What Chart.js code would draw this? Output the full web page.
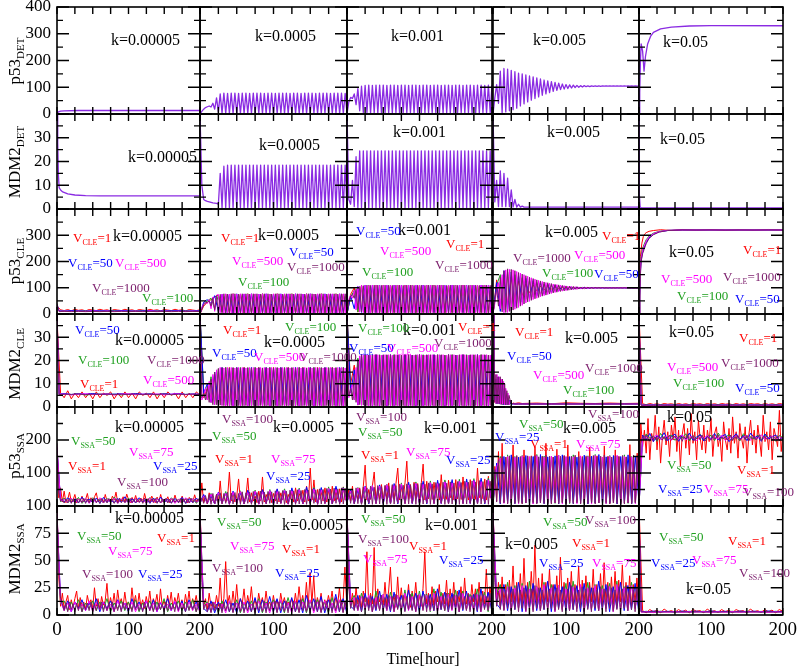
<!DOCTYPE html>
<html>
<head>
<meta charset="utf-8">
<title>p53 / MDM2 time series</title>
<script src="https://cdn.jsdelivr.net/npm/chart.js@4.4.1/dist/chart.umd.min.js"></script>
<style>
  html, body { margin: 0; padding: 0; background: #fff; }
  body { position: relative; width: 799px; height: 670px; overflow: hidden; font-family: "Liberation Serif", "Times New Roman", serif; }
  canvas { position: absolute; }
  .txt { position: absolute; white-space: nowrap; line-height: 1; transform: translateY(-50%); }
  .txt sub { position: relative; top: 3px; vertical-align: baseline; font-size: 8px; }
  .k { font-size: 16px; color: #000; }
  .v { font-size: 13px; }
  .ytitle { position: absolute; white-space: nowrap; line-height: 1; font-size: 17px; transform: translate(-50%, -50%) rotate(-90deg); }
  .ytitle sub { position: relative; top: 4px; vertical-align: baseline; font-size: 11px; }
  .xtitle { position: absolute; font-size: 16px; line-height: 1; transform: translate(-50%, -50%); white-space: nowrap; }
</style>
</head>
<body>
<script>
// time grids (hours)
const tOsc = [0,2.5,5,7.5,10,12.5,15,17.5,20,22.5,
  25,27.5,30,32.5,35,37.5,40,42.5,45,47.5,
  50,52.5,55,57.5,60,62.5,65,67.5,70,72.5,
  75,77.5,80,82.5,85,87.5,90,92.5,95,97.5,
  100,102.5,105,107.5,110,112.5,115,117.5,120,122.5,
  125,127.5,130,132.5,135,137.5,140,142.5,145,147.5,
  150,152.5,155,157.5,160,162.5,165,167.5,170,172.5,
  175,177.5,180,182.5,185,187.5,190,192.5,195,197.5,
  200];
const tNoise = [0,5,10,15,20,25,30,35,40,45,50,55,60,65,70,75,80,85,90,95,
  100,105,110,115,120,125,130,135,140,145,150,155,160,165,170,175,180,185,190,195,200];
const tSparse = [0,3,10,20,30,40,50,60,70,80,90,100,110,120,130,140,150,160,170,180,190,200];
const tDecay = [0,1,2.5,4,5.5,7,8.5,10,11.5,13,14.5,16,17.5,19,20.5,22,24,26,28,30,35,40,60,80,100,120,140,160,180,200];
const tRise = [0,1,2,3,5,7,10,14,20,28,40,60,200];
const tRiseRed = [0,1,2,4,6,8,10,14,20,30,45,60,80,100,120,140,160,180,200];

// axes and labels
const xTickLabels = [0, 100, 200];
const yMaxByRow = [400, 40, 400, 40, 300, 100];
const yMajorByRow = [100, 10, 100, 10, 100, 25];
const yMinorByRow = [50, 5, 50, 5, 50, 12.5];
const yTickLabels = [[0,100,200,300,400],[0,10,20,30],[0,100,200,300],[0,10,20,30],[100,200],[0,25,50,75,100]];
const rowTitles = [['p53','DET'],['MDM2','DET'],['p53','CLE'],['MDM2','CLE'],['p53','SSA'],['MDM2','SSA']];
const kValues = ['0.00005','0.0005','0.001','0.005','0.05'];
const vCle = [1, 50, 100, 500, 1000];
const vSsa = [1, 25, 50, 75, 100];

// ---- deterministic ----
const p53Det1T = [0,2,5,10,30,200];
const p53Det1 = [0,8,11,12,13,13];
const p53Det2 = [0,10,18,24,27,30,26,40,18,60,
  8,75,3,78,2,77,3,78,2,78, 3,77,2,78,2,78,3,77,2,78, 2,78,3,78,2,77,2,78,3,78,
  2,77,2,78,3,78,2,78,2,77, 3,78,2,78,2,77,3,78,2,78, 2,78,3,77,2,78,2,78,3,78,
  2,77,2,78,3,78,2,78,2,77, 3];
const p53Det3 = [0,45,62,58,75,35,95,12,104,6,
  107,5,108,4,107,5,108,4,108,5, 108,4,107,5,108,4,108,5,107,4, 108,5,108,4,107,5,108,4,108,5,
  107,4,108,5,108,4,107,5,108,4, 108,5,107,4,108,5,108,4,107,5, 108,4,108,5,107,4,108,5,108,4,
  107,5,108,4,108,5,107,4,108,5, 108];
const p53Det4 = [0,60,110,40,160,5,170,8,168,12,
  163,16,158,22,153,30,150,38,146,45, 142,52,139,58,135,64,131,70,127,75, 124,80,121,85,118,88,115,91,112,93,
  110,95,109,97,108,99,107,100,106,101, 106,102,105,102,105,103,105,103,105,103, 105,104,105,104,105,104,105,104,105,104,
  105,104,105,104,105,104,105,104,105,104, 105];
const p53Det5T = [0,1,2,3,5,7,9,12,16,20,30,45,70,100,200];
const p53Det5 = [0,80,200,262,235,160,215,262,290,305,318,325,329,330,330];

const mdm2Det1T = [0,1,2,3,5,8,15,25,40,60,200];
const mdm2Det1 = [40,28,14,9,8,7.2,6.4,5.9,5.6,5.5,5.5];
const mdm2Det2 = [40,10,4,3.5,3.2,3,2.8,2.6,2.5,2.4,
  2,15,0.5,18,0.5,18.5,0.4,18.5,0.5,18.5, 0.4,18.5,0.5,18.5,0.4,18.5,0.5,18.5,0.4,18.5,
  0.5,18.5,0.4,18.5,0.5,18.5,0.4,18.5,0.5,18.5, 0.4,18.5,0.5,18.5,0.4,18.5,0.5,18.5,0.4,18.5,
  0.5,18.5,0.4,18.5,0.5,18.5,0.4,18.5,0.5,18.5, 0.4,18.5,0.5,18.5,0.4,18.5,0.5,18.5,0.4,18.5,
  0.5,18.5,0.4,18.5,0.5,18.5,0.4,18.5,0.5,18.5, 0.4];
const mdm2Det3 = [40,4,2,12,1,22,0.5,24.5,0.5,24.5,
  0.5,24.5,0.4,24.5,0.5,24.5,0.4,24.5,0.5,24.5, 0.5,24.5,0.4,24.5,0.5,24.5,0.4,24.5,0.5,24.5,
  0.5,24.5,0.4,24.5,0.5,24.5,0.4,24.5,0.5,24.5, 0.5,24.5,0.4,24.5,0.5,24.5,0.4,24.5,0.5,24.5,
  0.5,24.5,0.4,24.5,0.5,24.5,0.4,24.5,0.5,24.5, 0.5,24.5,0.4,24.5,0.5,24.5,0.4,24.5,0.5,24.5,
  0.5,24.5,0.4,24.5,0.5,24.5,0.4,24.5,0.5,24.5, 0.4];
const mdm2Det4 = [40,3,12,1,16,1,15,1,13,1,
  8,0.8,4,0.8,2,0.8,1.2,0.8,0.8,0.8,
  0.8,0.8,0.8,0.8,0.8,0.8,0.8,0.8,0.8,0.8, 0.8,0.8,0.8,0.8,0.8,0.8,0.8,0.8,0.8,0.8,
  0.8,0.8,0.8,0.8,0.8,0.8,0.8,0.8,0.8,0.8, 0.8,0.8,0.8,0.8,0.8,0.8,0.8,0.8,0.8,0.8,
  0.8,0.8,0.8,0.8,0.8,0.8,0.8,0.8,0.8,0.8, 0.8,0.8,0.8,0.8,0.8,0.8,0.8,0.8,0.8,0.8, 0.8];
const mdm2Det5T = [0,0.5,1.5,3,200];
const mdm2Det5 = [40,6,1,0.5,0.5];

// ---- CLE p53 ----
const p53Cle1R = [30,16,13,17,12,18,14,16,12,17, 15,13,18,14,16,12,17,15,13,18, 14,16,12,17,15,13,18,14,16,12, 17,15,13,18,14,16,12,17,15,13, 16];
const p53Cle1B = [35,12,11,13,12,11,13,12,12,11,13,12,11,12,13,11,12,12,13,11,12,12];
const p53Cle1G = [25,11,12,11,13,12,11,12,11,13,12,11,12,13,11,12,11,12,13,12,11,12];
const p53Cle1M = [20,10,11,10,11,10,12,10,11,10,11,10,11,10,12,10,11,10,11,10,11,10];
const p53Cle1P = [40,9,10,9,10,9,10,9,10,9,10,9,10,9,10,9,10,9,10,9,10,9];

const p53Cle2P = [0,20,35,42,45,50,30,60,15,70,
  6,75,4,77,3,76,4,77,3,77, 4,76,3,77,4,77,3,76,4,77, 3,77,4,76,3,77,4,77,3,76,
  4,77,3,77,4,76,3,77,4,77, 3,76,4,77,3,77,4,76,3,77, 4,77,3,76,4,77,3,77,4,76,
  3,77,4,77,3,76,4,77,3,77, 4];
const p53Cle2M = [0,25,38,45,40,55,20,65,10,72,
  74,5,76,3,77,4,76,3,77,4, 76,3,77,4,77,3,76,4,77,3, 77,4,76,3,77,4,77,3,76,4,
  77,3,77,4,76,3,77,4,77,3, 76,4,77,3,77,4,76,3,77,4, 77,3,76,4,77,3,77,4,76,3,
  77,4,77,3,76,4,77,3,77,4, 76];
const p53Cle2B = [0,45,55,40,70,10,75,5,76,4, 77,5,76,4,77,5,76,4,77,5, 76,4,77,5,76,4,77,5,76,4, 77,5,76,4,77,5,76,4,77,5, 76];
const p53Cle2G = [0,40,50,60,20,72,8,76,5,77, 4,76,5,77,4,76,5,77,4,76, 5,77,4,76,5,77,4,76,5,77, 4,76,5,77,4,76,5,77,4,76, 5];
const p53Cle2R = [0,30,45,55,65,72,10,76,5,77, 6,76,5,77,6,76,5,77,6,76, 5,77,6,76,5,77,6,76,5,77, 6,76,5,77,6,76,5,77,6,76, 5];

const p53Cle3P = [0,50,68,75,60,95,20,105,8,108,
  5,110,4,109,5,110,4,110,5,109, 4,110,5,110,4,109,5,110,4,110, 5,109,4,110,5,110,4,109,5,110,
  4,110,5,109,4,110,5,110,4,109, 5,110,4,110,5,109,4,110,5,110, 4,109,5,110,4,110,5,109,4,110,
  5,110,4,109,5,110,4,110,5,109, 4];
const p53Cle3M = [0,55,72,60,90,15,104,7,109,5,
  110,5,109,4,110,5,110,4,109,5, 110,4,110,5,109,4,110,5,110,4, 109,5,110,4,110,5,109,4,110,5,
  110,4,109,5,110,4,110,5,109,4, 110,5,110,4,109,5,110,4,110,5, 109,4,110,5,110,4,109,5,110,4,
  110,5,109,4,110,5,110,4,109,5, 110];
const p53Cle3B = [0,70,20,105,6,110,5,109,6,110, 5,109,6,110,5,109,6,110,5,109, 6,110,5,109,6,110,5,109,6,110, 5,109,6,110,5,109,6,110,5,109, 6];
const p53Cle3G = [0,65,90,8,108,6,110,5,109,6, 110,5,109,6,110,5,109,6,110,5, 109,6,110,5,109,6,110,5,109,6, 110,5,109,6,110,5,109,6,110,5, 109];
const p53Cle3R = [0,75,100,7,110,6,109,5,110,6, 109,5,110,6,109,5,110,6,109,5, 110,6,109,5,110,6,109,5,110,6, 109,5,110,6,109,5,110,6,109,5, 110];

const p53Cle4P = [0,50,100,30,140,8,165,6,172,10,
  170,15,165,22,158,30,152,38,146,46, 140,52,135,58,130,63,126,68,122,72, 119,76,116,80,113,83,111,86,109,88,
  107,90,106,92,105,94,104,95,103,96, 102,97,102,98,101,98,101,99,101,99, 101,99,100,99,100,99,100,99,100,99,
  100,99,100,99,100,99,100,99,100,99, 100];
const p53Cle4M = [0,40,90,120,20,150,5,168,6,170,
  12,168,18,162,25,156,33,150,42,144, 48,138,55,133,60,128,66,124,70,120, 74,117,78,114,82,112,85,110,87,108,
  89,106,91,105,93,104,94,103,95,102, 96,102,97,101,98,101,98,100,99,100, 99,100,99,100,99,100,99,100,99,100,
  99,100,99,100,99,100,99,100,99,100, 99];
const p53Cle4B = [0,120,10,165,12,160,28,148,45,136, 58,127,68,120,76,114,83,110,88,106, 92,104,95,102,97,101,98,101,99,100, 99,100,99,100,99,100,99,100,99,100, 99];
const p53Cle4G = [0,110,150,15,160,25,150,40,138,55, 128,65,120,74,114,82,110,87,106,91, 103,94,102,96,101,97,100,98,100,99, 100,99,100,99,100,99,100,99,100,99, 100];
const p53Cle4R = [0,130,20,150,35,140,55,125,70,115, 80,110,88,106,92,104,95,102,97,101, 98,101,99,100,100,100,101,100,101,100, 101,100,101,100,101,100,101,100,101,100, 101];

const p53Cle5P = [0,60,150,200,230,245,268,288,302,312,318,320,320];
const p53Cle5M = [0,80,170,215,242,258,278,294,306,314,319,320,320];
const p53Cle5B = [0,70,160,205,235,252,272,290,304,313,318,320,320];
const p53Cle5G = [0,90,180,225,250,265,283,297,308,315,319,320,320];
const p53Cle5R = [0,120,220,270,295,305,310,315,318,321,318,322,319,322,318,321,319,322,320];

// ---- CLE MDM2 ----
const mdm2Cle1R = [38,6,4,7,3.5,6,4,6.5,4,6, 3.5,6.5,4,6,5,6.5,3.5,6,4,6.5, 4,6,3.5,6.5,5,6,4,6.5,3.5,6, 4,6.5,5,6,3.5,6.5,4,6,4,6.5, 5];
const mdm2Cle1B = [40,5.5,5.8,5.4,5.7,5.5,5.8,5.4,5.6,5.5,5.7,5.4,5.8,5.5,5.6,5.4,5.7,5.5,5.8,5.4,5.6,5.5];
const mdm2Cle1G = [36,5.2,5.5,5.3,5.6,5.2,5.4,5.6,5.3,5.5,5.2,5.6,5.3,5.4,5.6,5.2,5.5,5.3,5.6,5.4,5.5,5.3];
const mdm2Cle1M = [39,5.4,5.6,5.2,5.5,5.7,5.3,5.5,5.6,5.2,5.5,5.7,5.3,5.5,5.4,5.6,5.2,5.5,5.7,5.3,5.5,5.4];
const mdm2Cle1P = [40,5.3,5.5,5.4,5.6,5.3,5.5,5.4,5.6,5.3,5.5,5.4,5.6,5.3,5.5,5.4,5.6,5.3,5.5,5.4,5.5,5.4];

const mdm2Cle2P = [40,4,6,3,9,2,12,1,15,1,
  16.5,0.8,17,0.6,17,0.5,16.8,0.6,17,0.5, 17,0.6,16.8,0.5,17,0.6,17,0.5,16.8,0.6, 17,0.5,17,0.6,16.8,0.5,17,0.6,17,0.5,
  16.8,0.6,17,0.5,17,0.6,16.8,0.5,17,0.6, 17,0.5,16.8,0.6,17,0.5,17,0.6,16.8,0.5, 17,0.6,17,0.5,16.8,0.6,17,0.5,17,0.6,
  16.8,0.5,17,0.6,17,0.5,16.8,0.6,17,0.5, 17];
const mdm2Cle2M = [38,3,5,8,3,11,2,14,1,16,
  0.8,17,0.6,16.8,0.5,17,0.6,17,0.5,16.8, 0.6,17,0.5,17,0.6,16.8,0.5,17,0.6,17, 0.5,16.8,0.6,17,0.5,17,0.6,16.8,0.5,17,
  0.6,17,0.5,16.8,0.6,17,0.5,17,0.6,16.8, 0.5,17,0.6,17,0.5,16.8,0.6,17,0.5,17, 0.6,16.8,0.5,17,0.6,17,0.5,16.8,0.6,17,
  0.5,17,0.6,16.8,0.5,17,0.6,17,0.5,16.8, 0.6];
const mdm2Cle2B = [40,6,10,2,15,1,17,0.8,16.5,0.6, 17,0.5,16.8,0.6,17,0.5,16.8,0.6,17,0.5, 16.8,0.6,17,0.5,16.8,0.6,17,0.5,16.8,0.6, 17,0.5,16.8,0.6,17,0.5,16.8,0.6,17,0.5, 16.8];
const mdm2Cle2G = [40,7,3,13,1,16.5,0.8,17,0.6,16.8, 0.5,17,0.6,16.8,0.5,17,0.6,16.8,0.5,17, 0.6,16.8,0.5,17,0.6,16.8,0.5,17,0.6,16.8, 0.5,17,0.6,16.8,0.5,17,0.6,16.8,0.5,17, 0.6];
const mdm2Cle2R = [40,4,8,2,14,1,16.8,0.7,17,0.6, 16.8,0.5,17,0.6,16.8,0.5,17,0.6,16.8,0.5, 17,0.6,16.8,0.5,17,0.6,16.8,0.5,17,0.6, 16.8,0.5,17,0.6,16.8,0.5,17,0.6,16.8,0.5, 17];

const mdm2Cle3P = [40,5,8,3,14,2,20,1,22.5,0.8,
  22.5,0.6,22.3,0.5,22.5,0.6,22.5,0.5,22.3,0.6, 22.5,0.5,22.5,0.6,22.3,0.5,22.5,0.6,22.5,0.5, 22.3,0.6,22.5,0.5,22.5,0.6,22.3,0.5,22.5,0.6,
  22.5,0.5,22.3,0.6,22.5,0.5,22.5,0.6,22.3,0.5, 22.5,0.6,22.5,0.5,22.3,0.6,22.5,0.5,22.5,0.6, 22.3,0.5,22.5,0.6,22.5,0.5,22.3,0.6,22.5,0.5,
  22.5,0.6,22.3,0.5,22.5,0.6,22.5,0.5,22.3,0.6, 22.5];
const mdm2Cle3M = [38,4,7,10,3,17,1,22,0.7,22.5,
  0.6,22.5,0.5,22.3,0.6,22.5,0.5,22.5,0.6,22.3, 0.5,22.5,0.6,22.5,0.5,22.3,0.6,22.5,0.5,22.5, 0.6,22.3,0.5,22.5,0.6,22.5,0.5,22.3,0.6,22.5,
  0.5,22.5,0.6,22.3,0.5,22.5,0.6,22.5,0.5,22.3, 0.6,22.5,0.5,22.5,0.6,22.3,0.5,22.5,0.6,22.5, 0.5,22.3,0.6,22.5,0.5,22.5,0.6,22.3,0.5,22.5,
  0.6,22.5,0.5,22.3,0.6,22.5,0.5,22.5,0.6,22.3, 0.5];
const mdm2Cle3B = [40,6,16,1,22.5,0.6,22.3,0.5,22.5,0.6, 22.3,0.5,22.5,0.6,22.3,0.5,22.5,0.6,22.3,0.5, 22.5,0.6,22.3,0.5,22.5,0.6,22.3,0.5,22.5,0.6, 22.3,0.5,22.5,0.6,22.3,0.5,22.5,0.6,22.3,0.5, 22.5];
const mdm2Cle3G = [40,8,3,21,0.8,22.5,0.6,22.3,0.5,22.5, 0.6,22.3,0.5,22.5,0.6,22.3,0.5,22.5,0.6,22.3, 0.5,22.5,0.6,22.3,0.5,22.5,0.6,22.3,0.5,22.5, 0.6,22.3,0.5,22.5,0.6,22.3,0.5,22.5,0.6,22.3, 0.5];
const mdm2Cle3R = [40,10,18,0.8,22.5,0.6,22.3,0.5,22.5,0.6, 22.3,0.5,22.5,0.6,22.3,0.5,22.5,0.6,22.3,0.5, 22.5,0.6,22.3,0.5,22.5,0.6,22.3,0.5,22.5,0.6, 22.3,0.5,22.5,0.6,22.3,0.5,22.5,0.6,22.3,0.5, 22.5];

const mdm2Cle4P = [40,30,2,14,1.5,13,1.5,13,1.2,12, 1.2,10,1,7,1,5,2,1.5,1.5,1.3, 1.3,1.3,1.3,1.3,1.3,1.3,1.3,1.3,1.3,1.3];
const mdm2Cle4M = [40,20,12,1.5,14,1.5,13,1.2,12,1.2, 11,1,8,1,6,1,3,1.5,1.3,1.3, 1.3,1.3,1.3,1.3,1.3,1.3,1.3,1.3,1.3,1.3];
const mdm2Cle4B = [40,15,3,12,1.5,13,1.3,11,1.2,10, 1,8,1,5,1,3,1.5,1.3,1.3,1.3, 1.3,1.3,1.3,1.3,1.3,1.3,1.3,1.3,1.3,1.3];
const mdm2Cle4G = [40,25,10,1.5,12,1.5,11,1.2,10,1, 8,1,6,1,4,1,2,1.3,1.3,1.3, 1.3,1.3,1.3,1.3,1.3,1.3,1.3,1.3,1.3,1.3];
const mdm2Cle4R = [40,10,2,8,1.5,9,1.5,8,1.2,6, 1.2,4,1,3,1,2,1.5,1.4,1.7,1.5, 1.8,1.5,1.7,1.4,1.8,1.6,1.5,1.7,1.5,1.6];

const mdm2Cle5R = [40,1.4,1.0,1.5,1.1,1.4,1.0,1.5,1.2,1.4, 1.0,1.5,1.1,1.4,1.0,1.5,1.2,1.4,1.0,1.5, 1.1,1.4,1.0,1.5,1.2,1.4,1.0,1.5,1.1,1.4, 1.0,1.5,1.2,1.4,1.0,1.5,1.1,1.4,1.0,1.5, 1.2];
const mdm2Cle5B = [40,0.9,0.8,0.9,0.8,0.9,0.8,0.9,0.8,0.9,0.8,0.9,0.8,0.9,0.8,0.9,0.8,0.9,0.8,0.9,0.8,0.9];
const mdm2Cle5G = [36,0.8,0.9,0.8,0.9,0.8,0.9,0.8,0.9,0.8,0.9,0.8,0.9,0.8,0.9,0.8,0.9,0.8,0.9,0.8,0.9,0.8];
const mdm2Cle5M = [38,0.8,0.7,0.8,0.7,0.8,0.7,0.8,0.7,0.8,0.7,0.8,0.7,0.8,0.7,0.8,0.7,0.8,0.7,0.8,0.7,0.8];
const mdm2Cle5P = [40,0.7,0.8,0.7,0.8,0.7,0.8,0.7,0.8,0.7,0.8,0.7,0.8,0.7,0.8,0.7,0.8,0.7,0.8,0.7,0.8,0.7];

// ---- SSA p53 ----
const p53Ssa1P = [190,40,15,22,9,20,10,23,8,21,
  10,22,9,20,11,23,8,21,10,22, 9,24,10,21,8,22,11,20,9,23, 10,21,8,22,9,24,10,20,11,22,
  8,23,10,21,9,22,11,20,8,24, 10,22,9,21,11,23,8,20,10,22, 9,24,10,21,8,22,11,20,9,23,
  10,21,8,22,9,24,10,20,11,22, 9];
const p53Ssa1M = [180,15,20,10,24,9,21,11,23,8, 22,10,25,9,20,11,24,8,22,10, 21,9,23,11,20,8,24,10,22,9, 21,11,23,8,20,10,25,9,22,11, 20];
const p53Ssa1B = [170,20,12,25,10,22,9,27,11,21, 10,24,8,26,12,20,9,23,11,28, 10,22,9,25,12,21,8,24,10,27, 11,20,9,23,12,26,8,22,10,24, 11];
const p53Ssa1G = [175,12,24,9,21,11,26,8,22,10, 25,12,20,9,23,11,27,8,21,10, 24,9,22,12,20,8,26,11,23,9, 21,10,25,12,20,9,23,11,22,8, 24];
const p53Ssa1R = [150,25,55,12,45,10,20,42,12,18,
  35,10,22,15,30,12,20,38,10,25, 14,28,40,12,18,22,10,35,15,20, 12,30,18,42,10,22,15,28,12,36,
  20,10,26,14,32,12,18,24,10,38, 15,22,12,30,18,10,27,14,35,12, 20,16,28,10,24,12,33,15,20,11,
  30,14,22,10,26,18,12,34,15,20, 12];

const p53Ssa2P = [5,25,8,32,6,35,5,38,7,36,
  5,40,6,38,8,42,5,39,6,41, 7,38,5,43,6,40,8,42,5,44, 6,41,7,45,5,42,6,44,8,43,
  5,46,6,44,7,47,5,45,6,48, 8,46,5,49,6,47,7,50,5,48, 6,51,8,49,5,52,6,50,7,53,
  5,51,6,54,8,52,5,55,6,53, 7];
const p53Ssa2M = [10,30,7,36,6,40,8,38,5,42, 7,44,6,41,8,45,5,43,7,47, 6,44,8,48,5,46,7,50,6,47, 8,51,5,49,7,53,6,50,8,54, 6];
const p53Ssa2B = [8,35,10,30,6,42,9,38,7,45, 10,40,6,48,9,43,7,50,10,46, 6,52,9,48,7,55,10,50,6,58, 9,53,7,56,10,52,6,60,9,55, 7];
const p53Ssa2G = [12,28,9,38,7,35,10,44,6,40, 9,46,7,42,10,48,6,45,9,50, 7,47,10,52,6,49,9,54,7,51, 10,56,6,53,9,58,7,55,10,57, 8];
const p53Ssa2R = [8,70,10,25,6,40,12,20,8,35,
  10,76,8,30,12,25,103,15,40,12, 30,82,10,35,15,28,85,12,40,15, 30,10,45,15,88,12,35,18,42,10,
  38,15,50,12,40,18,45,10,35,20, 42,12,55,15,38,20,48,12,60,15, 115,18,79,12,50,20,42,15,55,12,
  48,18,60,15,45,20,52,12,58,18, 45];

const p53Ssa3P = [10,40,8,50,6,55,7,52,5,58,
  6,55,8,60,5,57,7,62,6,59, 8,63,5,60,7,65,6,62,8,66, 5,63,7,67,6,64,8,68,5,65,
  7,69,6,66,8,70,5,67,7,71, 6,68,8,72,5,69,7,73,6,70, 8,74,5,71,7,75,6,72,8,76,
  5,73,7,77,6,74,8,78,5,75, 7];
const p53Ssa3M = [12,45,8,55,6,58,9,62,7,60, 8,65,6,62,9,67,7,64,8,69, 6,66,9,71,7,68,8,73,6,70, 9,75,7,72,8,77,6,74,9,79, 7];
const p53Ssa3B = [10,50,7,48,9,60,6,57,10,64, 7,60,9,68,6,64,10,72,7,67, 9,75,6,70,10,78,7,73,9,80, 6,76,10,82,7,78,9,84,6,80, 10];
const p53Ssa3G = [15,42,9,56,6,52,10,62,7,58, 9,66,6,62,10,70,7,66,9,73, 6,69,10,76,7,72,9,79,6,75, 10,81,7,77,9,83,6,79,10,85, 8];
const p53Ssa3R = [10,50,15,60,12,45,20,55,15,60,
  124,18,50,20,60,103,15,55,20,65, 18,60,22,70,15,62,20,68,115,18, 60,22,70,136,20,65,18,72,22,68,
  20,70,127,18,75,22,68,20,72,25, 70,18,95,22,75,20,78,25,70,18, 80,22,76,20,88,25,72,18,80,22,
  75,20,115,25,78,22,82,18,90,25, 80];

const p53Ssa4P = [5,110,12,140,8,150,10,148,6,152,
  9,149,7,153,10,150,6,148,9,152, 7,150,10,153,6,149,9,151,7,154, 10,150,6,148,9,152,7,150,10,153,
  6,149,9,151,7,154,10,150,6,148, 9,152,7,150,10,153,6,149,9,151, 7,154,10,150,6,148,9,152,7,150,
  10,153,6,149,9,151,7,154,10,150, 6];
const p53Ssa4M = [8,120,145,8,150,10,148,7,152,9, 150,6,153,10,148,7,151,9,154,6, 150,10,149,7,152,9,150,6,153,10, 148,7,151,9,154,6,150,10,149,7, 152];
const p53Ssa4B = [10,130,6,150,9,155,7,148,10,153, 6,150,9,156,7,149,10,152,6,155, 9,150,7,148,10,154,6,151,9,156, 7,149,10,153,6,150,9,155,7,148, 10];
const p53Ssa4G = [6,100,150,10,155,8,150,6,153,9, 148,7,156,10,151,6,150,8,154,9, 149,7,155,10,150,6,152,8,156,9, 148,7,153,10,151,6,155,8,150,9, 154];
const p53Ssa4R = [10,120,15,165,10,190,12,148,8,150,
  15,185,10,150,12,148,8,170,14,150, 10,152,12,180,9,148,15,150,10,190, 12,150,8,148,14,172,10,150,12,152,
  9,185,15,148,10,150,12,165,8,150, 14,148,10,178,12,150,9,152,15,148, 10,182,12,150,8,148,14,170,10,150,
  12,152,9,148,15,186,10,150,12,160, 10];

const p53Ssa5P = [0,190,212,200,215,204,196,213,202,209,
  198,214,205,200,211,197,208,215,201,206, 212,199,207,214,196,210,203,216,200,208, 213,198,206,211,200,215,204,197,210,205,
  199,214,202,208,216,197,209,203,212,200, 207,215,198,210,204,213,199,206,211,201, 214,197,208,203,212,200,209,216,198,205,
  211,202,207,214,199,210,204,213,197,208, 203];
const p53Ssa5M = [0,205,212,198,209,215,201,207,213,199, 210,204,216,200,208,212,197,211,205,214, 200,209,203,215,198,210,206,213,201,208, 214,199,211,204,216,202,207,212,198,210, 205];
const p53Ssa5B = [0,215,200,220,195,212,205,222,198,210, 218,196,214,203,221,199,209,216,197,213, 204,220,200,211,217,195,208,219,202,214, 198,221,206,212,196,218,203,210,215,200, 209];
const p53Ssa5G = [0,200,218,205,212,196,220,203,209,215, 199,211,206,219,197,213,204,217,200,210, 214,198,221,205,208,216,201,212,197,219, 206,210,203,215,199,218,204,211,196,214, 207];
const p53Ssa5R = [0,250,180,230,160,265,140,220,195,275,
  170,240,130,210,260,185,225,150,245,200, 270,165,230,120,215,250,175,235,155,280, 190,225,140,260,205,170,245,160,230,195,
  265,150,220,240,180,210,135,255,200,170, 235,160,270,190,225,145,250,205,175,240, 130,215,260,185,230,160,245,200,150,275,
  195,225,170,255,140,235,210,180,290,165, 220];

// ---- SSA MDM2 ----
const mdm2Ssa1P = [100,40,15,10,4,11,3,12,5,10,
  3,11,4,12,3,10,5,11,4,12, 3,10,4,11,5,12,3,10,4,11, 5,12,3,11,4,10,3,12,5,11,
  4,10,3,12,5,11,4,10,3,12, 5,11,4,10,3,12,4,11,5,10, 3,12,4,11,5,10,3,12,4,11,
  5,10,3,12,4,11,5,10,3,12, 4];
const mdm2Ssa1M = [95,12,4,11,3,12,5,10,4,13, 3,11,5,12,4,10,3,13,5,11, 4,12,3,10,5,13,4,11,3,12, 5,10,4,13,3,11,5,12,4,10, 3];
const mdm2Ssa1B = [90,14,5,13,3,12,6,14,4,11, 5,15,3,12,6,13,4,14,5,11, 3,15,6,12,4,13,5,14,3,11, 6,15,4,12,5,13,3,14,6,12, 4];
const mdm2Ssa1G = [92,10,13,4,12,5,14,3,11,6, 13,4,12,5,15,3,11,6,13,4, 12,5,14,3,11,6,13,4,12,5, 15,3,11,6,13,4,12,5,14,3, 11];
const mdm2Ssa1R = [100,35,8,20,6,12,18,5,14,7,
  15,22,6,16,8,12,5,18,10,14, 6,25,8,15,5,17,9,13,29,7, 16,8,20,6,23,10,15,7,21,9,
  12,6,25,10,18,7,20,8,14,6, 17,9,22,7,15,10,19,6,24,8, 13,7,18,9,21,6,16,10,20,8,
  14,6,19,9,22,7,15,10,18,8, 12];

const mdm2Ssa2P = [100,30,5,10,3,11,2,12,4,10,
  3,11,2,12,4,10,3,11,2,12, 4,11,3,12,2,10,4,12,3,11, 2,12,4,11,3,13,2,11,4,12,
  3,13,2,12,4,11,3,13,2,12, 4,13,3,12,2,14,4,12,3,13, 2,12,4,14,3,13,2,12,4,13,
  3,14,2,12,4,13,3,14,2,13, 4];
const mdm2Ssa2M = [95,8,11,3,12,4,10,2,13,3, 11,4,12,2,10,3,13,4,11,2, 12,3,14,4,11,2,13,3,12,4, 14,2,12,3,13,4,11,2,14,3, 12];
const mdm2Ssa2B = [90,6,3,13,2,12,4,14,3,11, 2,15,4,13,3,16,2,14,4,17, 3,15,2,13,4,16,3,14,2,18, 4,15,3,17,2,14,4,19,3,15, 2];
const mdm2Ssa2G = [92,10,12,3,11,2,13,4,12,3, 14,2,11,4,13,3,15,2,12,4, 14,3,13,2,16,4,12,3,15,2, 13,4,14,3,12,2,16,4,13,3, 15];
const mdm2Ssa2R = [100,43,8,15,5,20,8,12,6,18,
  8,34,6,15,49,10,18,6,22,8, 28,7,15,10,24,6,18,9,26,8, 14,6,20,10,16,7,22,9,12,6,
  18,8,14,6,20,10,16,7,12,9, 15,6,20,8,26,10,18,7,30,8, 39,10,36,7,16,9,20,6,14,8,
  18,10,22,7,16,9,25,8,12,44, 10];

const mdm2Ssa3P = [100,25,6,14,4,16,5,15,3,17,
  5,16,4,18,3,15,5,17,4,18, 3,16,5,18,4,17,3,19,5,16, 4,18,3,17,5,19,4,16,3,18,
  5,17,4,19,3,18,5,16,4,19, 3,17,5,18,4,20,3,17,5,19, 4,18,3,20,5,17,4,19,3,18,
  5,20,4,18,3,19,5,17,4,20, 3];
const mdm2Ssa3M = [95,10,16,4,17,5,18,3,16,5, 19,4,17,3,18,5,20,4,17,3, 19,5,18,4,20,3,17,5,19,4, 18,3,20,5,17,4,19,3,18,5, 20];
const mdm2Ssa3B = [90,8,5,18,3,20,6,17,4,22, 5,19,3,21,6,18,4,23,5,20, 3,22,6,19,4,24,5,21,3,20, 6,23,4,22,5,19,3,24,6,21, 4];
const mdm2Ssa3G = [92,12,18,4,20,6,17,3,22,5, 19,4,21,6,18,3,23,5,20,4, 22,6,19,3,24,5,21,4,20,6, 23,3,22,5,19,4,24,6,21,3, 22];
const mdm2Ssa3R = [100,30,8,20,6,25,10,18,7,22,
  12,58,8,20,10,62,7,24,12,18, 9,30,8,22,44,10,18,7,35,9, 25,8,20,10,28,7,22,12,30,9,
  18,8,24,58,10,20,7,26,9,22, 12,28,8,20,10,32,7,24,9,30, 8,22,12,26,7,34,10,20,8,28,
  12,24,7,30,9,22,10,42,8,26, 12];

const mdm2Ssa4P = [100,30,8,22,5,25,4,23,6,26,
  4,24,5,27,3,23,6,25,4,26, 5,24,3,27,6,25,4,23,5,26, 3,24,6,27,4,25,5,23,3,26,
  6,24,4,27,5,25,3,23,6,26, 4,24,5,27,3,25,6,23,4,26, 5,24,3,27,6,25,4,23,5,26,
  3,24,6,27,4,25,5,23,3,26, 5];
const mdm2Ssa4M = [95,15,24,5,26,4,25,6,27,3, 24,5,26,4,28,6,25,3,27,5, 24,4,26,6,28,3,25,5,27,4, 24,6,26,3,28,5,25,4,27,6, 24];
const mdm2Ssa4B = [90,10,6,28,4,26,5,30,3,27, 6,29,4,25,5,31,3,28,6,26, 4,30,5,27,3,29,6,25,4,31, 5,28,3,26,6,30,4,27,5,29, 3];
const mdm2Ssa4G = [92,20,28,5,30,4,27,6,29,3, 31,5,26,4,30,6,28,3,27,5, 29,4,31,6,26,3,30,5,28,4, 27,6,29,3,31,5,26,4,30,6, 28];
const mdm2Ssa4R = [100,40,10,30,8,35,12,28,9,32,
  12,45,8,30,10,38,7,52,10,30, 8,40,12,64,9,34,10,38,8,30, 12,42,9,28,10,36,8,53,12,30,
  9,34,10,40,8,28,12,45,9,32, 10,36,8,30,12,42,9,28,10,38, 8,48,12,30,9,35,10,40,8,32,
  12,46,9,30,10,36,8,28,12,34, 10];

const mdm2Ssa5P = [100,3,2.5,3,2.5,3,2.5,3,2.5,3,2.5,3,2.5,3,2.5,3,2.5,3,2.5,3,2.5,3];
const mdm2Ssa5M = [95,2.5,3,2.2,3,2.5,3.2,2.4,3,2.6,3.1,2.3,3,2.5,3.2,2.4,3,2.6,3.1,2.3,3,2.5];
const mdm2Ssa5B = [90,3.5,2.8,3.6,2.9,3.4,2.7,3.6,3,3.5,2.8,3.7,2.9,3.4,2.7,3.6,3,3.5,2.8,3.7,2.9,3.4];
const mdm2Ssa5G = [92,2.8,3.4,2.6,3.5,2.9,3.3,2.7,3.4,2.8,3.5,2.6,3.3,2.9,3.4,2.7,3.5,2.8,3.3,2.6,3.4,2.9];
const mdm2Ssa5R = [100,4,2,5,3,4.5,2,5.5,3,4, 2.5,5,3,4.5,2,5,3.5,4,2,5.5, 3,4,2.5,5,3,4.5,2,5,3.5,4, 2,5.5,3,4,2.5,5,3,4.5,2,5, 3.5];

// colours
const VIO = '#8a2be2', MAR = '#7b1c6b', MAG = '#ff00ff', BLU = '#0000ff', GRN = '#1fa01f', RED = '#ff0000';
const labelColors = [RED, BLU, GRN, MAG, MAR];

// layout (pixels)
const colX = [56.7, 200, 347.3, 492.7, 638.7, 782.3];
const rowY = [7, 114, 209, 314, 407, 506, 615];
const PAD = 18, AXW = 46, AXH = 32;

const kPos = [
  [[111,40],[255,36],[391,36],[533,40],[663,42]],
  [[128,157],[259,145],[393,132],[547,132],[660,139]],
  [[113,236],[258,235],[398,230],[545,232],[669,252]],
  [[115,340],[264,342],[403,330],[565,338],[669,332]],
  [[115,427],[273,427],[424,428],[563,428],[667,417]],
  [[115,518],[282,525],[425,525],[505,544],[686,589]]
];
// V label positions, order V=1, 50/25, 100/50, 500/75, 1000/100
const vPos = {
  2: [[[73,237],[68,262],[142,297],[115,262],[92,287]],
      [[221,237],[289,251],[238,281],[232,260],[287,266]],
      [[446,243],[356,230],[362,271],[380,250],[435,264]],
      [[602,235],[594,273],[542,272],[574,254],[513,257]],
      [[743,249],[735,298],[677,295],[661,278],[723,276]]],
  3: [[[80,383],[75,329],[78,359],[143,379],[147,359]],
      [[223,329],[212,352],[285,326],[254,356],[299,356]],
      [[458,326],[349,347],[358,327],[387,347],[434,342]],
      [[515,331],[507,355],[563,389],[533,374],[585,367]],
      [[739,337],[735,387],[673,382],[667,366],[721,362]]],
  4: [[[68,465],[153,465],[71,440],[129,451],[117,481]],
      [[215,458],[266,475],[212,435],[271,458],[222,418]],
      [[361,454],[446,459],[358,431],[406,451],[356,416]],
      [[530,443],[495,436],[519,423],[576,443],[588,413]],
      [[737,469],[658,488],[667,464],[704,488],[743,491]]],
  5: [[[157,537],[138,573],[77,535],[108,550],[82,573]],
      [[282,548],[275,572],[217,521],[230,545],[212,567]],
      [[409,545],[439,559],[361,518],[363,558],[358,538]],
      [[572,542],[539,562],[543,521],[592,562],[585,519]],
      [[728,540],[651,562],[659,536],[692,559],[739,572]]]
};

const S = (t, y, c, w) => ({ t, y, c, w: w || 1 });
// top-most series first (Chart.js draws dataset 0 last)
const five = (P, M, B, G, R) => [S(P[0], P[1], MAR), S(M[0], M[1], MAG), S(B[0], B[1], BLU), S(G[0], G[1], GRN), S(R[0], R[1], RED)];

const grid = [
  [[S(p53Det1T, p53Det1, VIO, 1.3)], [S(tOsc, p53Det2, VIO, 1.3)], [S(tOsc, p53Det3, VIO, 1.3)], [S(tOsc, p53Det4, VIO, 1.3)], [S(p53Det5T, p53Det5, VIO, 1.3)]],
  [[S(mdm2Det1T, mdm2Det1, VIO, 1.3)], [S(tOsc, mdm2Det2, VIO, 1.3)], [S(tOsc, mdm2Det3, VIO, 1.3)], [S(tOsc, mdm2Det4, VIO, 1.3)], [S(mdm2Det5T, mdm2Det5, VIO, 1.3)]],
  [
    five([tSparse, p53Cle1P], [tSparse, p53Cle1M], [tSparse, p53Cle1B], [tSparse, p53Cle1G], [tNoise, p53Cle1R]),
    five([tOsc, p53Cle2P], [tOsc, p53Cle2M], [tNoise, p53Cle2B], [tNoise, p53Cle2G], [tNoise, p53Cle2R]),
    five([tOsc, p53Cle3P], [tOsc, p53Cle3M], [tNoise, p53Cle3B], [tNoise, p53Cle3G], [tNoise, p53Cle3R]),
    five([tOsc, p53Cle4P], [tOsc, p53Cle4M], [tNoise, p53Cle4B], [tNoise, p53Cle4G], [tNoise, p53Cle4R]),
    five([tRise, p53Cle5P], [tRise, p53Cle5M], [tRise, p53Cle5B], [tRise, p53Cle5G], [tRiseRed, p53Cle5R])
  ],
  [
    five([tSparse, mdm2Cle1P], [tSparse, mdm2Cle1M], [tSparse, mdm2Cle1B], [tSparse, mdm2Cle1G], [tNoise, mdm2Cle1R]),
    five([tOsc, mdm2Cle2P], [tOsc, mdm2Cle2M], [tNoise, mdm2Cle2B], [tNoise, mdm2Cle2G], [tNoise, mdm2Cle2R]),
    five([tOsc, mdm2Cle3P], [tOsc, mdm2Cle3M], [tNoise, mdm2Cle3B], [tNoise, mdm2Cle3G], [tNoise, mdm2Cle3R]),
    five([tDecay, mdm2Cle4P], [tDecay, mdm2Cle4M], [tDecay, mdm2Cle4B], [tDecay, mdm2Cle4G], [tDecay, mdm2Cle4R]),
    five([tSparse, mdm2Cle5P], [tSparse, mdm2Cle5M], [tSparse, mdm2Cle5B], [tSparse, mdm2Cle5G], [tNoise, mdm2Cle5R])
  ],
  [
    five([tOsc, p53Ssa1P], [tNoise, p53Ssa1M], [tNoise, p53Ssa1B], [tNoise, p53Ssa1G], [tOsc, p53Ssa1R]),
    five([tOsc, p53Ssa2P], [tNoise, p53Ssa2M], [tNoise, p53Ssa2B], [tNoise, p53Ssa2G], [tOsc, p53Ssa2R]),
    five([tOsc, p53Ssa3P], [tNoise, p53Ssa3M], [tNoise, p53Ssa3B], [tNoise, p53Ssa3G], [tOsc, p53Ssa3R]),
    five([tOsc, p53Ssa4P], [tNoise, p53Ssa4M], [tNoise, p53Ssa4B], [tNoise, p53Ssa4G], [tOsc, p53Ssa4R]),
    five([tOsc, p53Ssa5P], [tNoise, p53Ssa5M], [tNoise, p53Ssa5B], [tNoise, p53Ssa5G], [tOsc, p53Ssa5R])
  ],
  [
    five([tOsc, mdm2Ssa1P], [tNoise, mdm2Ssa1M], [tNoise, mdm2Ssa1B], [tNoise, mdm2Ssa1G], [tOsc, mdm2Ssa1R]),
    five([tOsc, mdm2Ssa2P], [tNoise, mdm2Ssa2M], [tNoise, mdm2Ssa2B], [tNoise, mdm2Ssa2G], [tOsc, mdm2Ssa2R]),
    five([tOsc, mdm2Ssa3P], [tNoise, mdm2Ssa3M], [tNoise, mdm2Ssa3B], [tNoise, mdm2Ssa3G], [tOsc, mdm2Ssa3R]),
    five([tOsc, mdm2Ssa4P], [tNoise, mdm2Ssa4M], [tNoise, mdm2Ssa4B], [tNoise, mdm2Ssa4G], [tOsc, mdm2Ssa4R]),
    five([tSparse, mdm2Ssa5P], [tSparse, mdm2Ssa5M], [tSparse, mdm2Ssa5B], [tSparse, mdm2Ssa5G], [tNoise, mdm2Ssa5R])
  ]
];

// frame with inward ticks on all four sides, placed by the chart's own scales
const frameTicks = {
  id: 'frameTicks',
  afterDatasetsDraw(chart, args, opts) {
    const { ctx, chartArea: a, scales: { x, y } } = chart;
    ctx.save();
    ctx.strokeStyle = '#000';
    ctx.lineWidth = 1.4;
    ctx.beginPath();
    for (let v = 0; v <= 200; v += 25) {
      const px = x.getPixelForValue(v);
      ctx.moveTo(px, a.bottom); ctx.lineTo(px, a.bottom - 7);
      ctx.moveTo(px, a.top); ctx.lineTo(px, a.top + 7);
    }
    for (let v = 0; v <= opts.max + 1e-9; v += opts.minor) {
      const py = y.getPixelForValue(v);
      const isMajor = Math.abs(v / opts.major - Math.round(v / opts.major)) < 1e-6;
      const len = isMajor ? 12 : 6;
      ctx.moveTo(a.left, py); ctx.lineTo(a.left + len, py);
      ctx.moveTo(a.right, py); ctx.lineTo(a.right - len, py);
    }
    ctx.stroke();
    ctx.lineWidth = 1.6;
    ctx.strokeRect(a.left, a.top, a.right - a.left, a.bottom - a.top);
    ctx.restore();
  }
};

function makePanel(r, c, series) {
  const isLeft = c === 0, isBottom = r === 5;
  const cx = colX[c] - PAD - (isLeft ? AXW : 0);
  const cy = rowY[r] - PAD;
  const cw = Math.round(colX[c + 1] + PAD - cx);
  const ch = Math.round(rowY[r + 1] + PAD + (isBottom ? AXH : 0) - cy);
  const cv = document.createElement('canvas');
  cv.width = cw; cv.height = ch;
  cv.style.left = cx + 'px';
  cv.style.top = cy + 'px';
  document.body.appendChild(cv);

  new Chart(cv, {
    type: 'line',
    data: {
      datasets: series.map(s => ({
        data: s.y.slice(0, s.t.length).map((v, i) => ({ x: s.t[i], y: v })),
        borderColor: s.c,
        borderWidth: s.w,
        borderJoinStyle: 'round',
        pointRadius: 0,
        tension: 0,
        fill: false
      }))
    },
    options: {
      responsive: false,
      animation: false,
      events: [],
      layout: { padding: PAD, autoPadding: false },
      plugins: {
        legend: { display: false },
        tooltip: { enabled: false },
        frameTicks: { max: yMaxByRow[r], major: yMajorByRow[r], minor: yMinorByRow[r] }
      },
      scales: {
        x: {
          type: 'linear', min: 0, max: 200, display: isBottom,
          afterFit: s => { s.height = isBottom ? AXH : 0; },
          grid: { display: false, drawTicks: false },
          border: { display: false },
          ticks: {
            stepSize: 100, autoSkip: false, maxRotation: 0, padding: 4, color: '#000',
            font: { family: 'Liberation Serif', size: 19 },
            callback: v => (xTickLabels.includes(v) && !(c > 0 && v === 0)) ? String(v) : ''
          }
        },
        y: {
          type: 'linear', min: 0, max: yMaxByRow[r], display: isLeft,
          afterFit: s => { s.width = isLeft ? AXW : 0; },
          grid: { display: false, drawTicks: false },
          border: { display: false },
          ticks: {
            stepSize: yMajorByRow[r], autoSkip: false, padding: 6, color: '#000',
            font: { family: 'Liberation Serif', size: 17 },
            callback: v => yTickLabels[r].includes(v) ? String(v) : ''
          }
        }
      }
    },
    plugins: [frameTicks]
  });
}

function addText(cls, html, x, y, color) {
  const d = document.createElement('div');
  d.className = cls;
  d.innerHTML = html;
  d.style.left = x + 'px';
  d.style.top = y + 'px';
  if (color) d.style.color = color;
  document.body.appendChild(d);
}

window.onload = () => {
  grid.forEach((row, r) => row.forEach((series, c) => makePanel(r, c, series)));

  const titleY = [61, 162, 261, 364, 456, 559];
  rowTitles.forEach((t, r) => addText('ytitle', t[0] + '<sub>' + t[1] + '</sub>', 14, titleY[r]));
  addText('xtitle', 'Time[hour]', 423, 659);

  kPos.forEach((row, r) => row.forEach((p, c) => addText('txt k', 'k=' + kValues[c], p[0], p[1])));

  Object.keys(vPos).forEach(key => {
    const r = Number(key);
    const sub = r < 4 ? 'CLE' : 'SSA';
    const vals = r < 4 ? vCle : vSsa;
    vPos[key].forEach(col => col.forEach((p, i) =>
      addText('txt v', 'V<sub>' + sub + '</sub>=' + vals[i], p[0], p[1], labelColors[i])));
  });
};
</script>
</body>
</html>
